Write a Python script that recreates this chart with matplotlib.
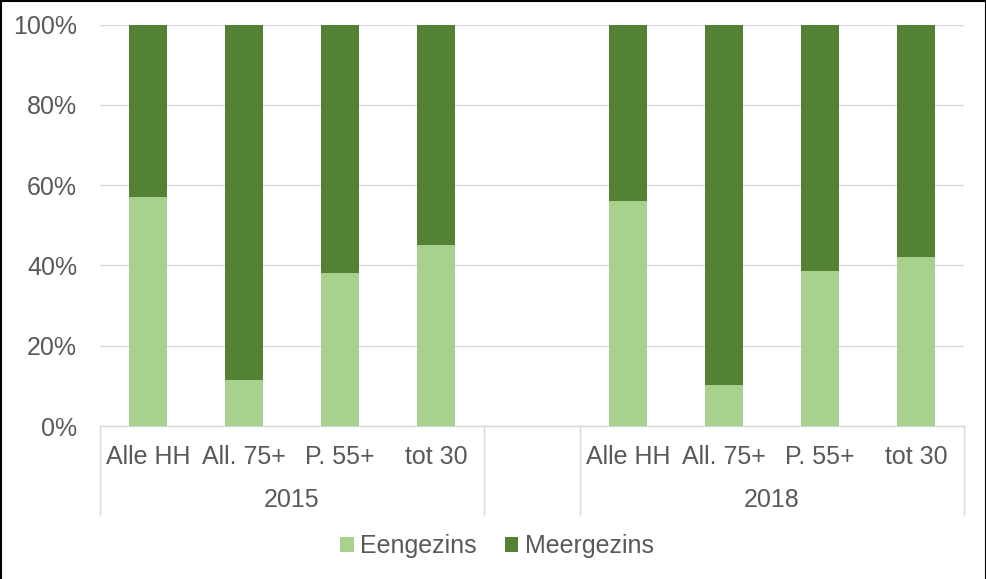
import numpy as np
import matplotlib
matplotlib.use("Agg")
import matplotlib.pyplot as plt
from matplotlib.patches import Patch
from matplotlib.lines import Line2D
from matplotlib.ticker import FuncFormatter

# data (percent of households)
categories = ["Alle HH", "All. 75+", "P. 55+", "tot 30"]
years = ["2015", "2018"]
eengezins_2015 = [57, 11.5, 38, 45]
meergezins_2015 = [43, 88.5, 62, 55]
eengezins_2018 = [56, 10.2, 38.6, 42.1]
meergezins_2018 = [44, 89.8, 61.4, 57.9]

light = "#A9D18E"
dark = "#548235"
grey_txt = "#595959"
grid_c = "#D9D9D9"

plt.rcParams['font.family'] = ['Liberation Sans', 'DejaVu Sans']
fs = 18

W, H = 986, 579
fig = plt.figure(figsize=(W / 100, H / 100), dpi=100)
ax = fig.add_axes([100 / W, 1 - 426 / H, 864 / W, 401.5 / H])

# slot layout: 4 bars, one empty slot, 4 bars
n = len(categories)
x15 = np.arange(n)
x18 = np.arange(n) + n + 1
bw = 0.4

ax.bar(x15, eengezins_2015, bw, color=light, zorder=3)
ax.bar(x15, meergezins_2015, bw, bottom=eengezins_2015, color=dark, zorder=3)
ax.bar(x18, eengezins_2018, bw, color=light, zorder=3)
ax.bar(x18, meergezins_2018, bw, bottom=eengezins_2018, color=dark, zorder=3)

ax.set_xlim(-0.5, 2 * n + 0.5)
ax.set_ylim(0, 100)
ax.set_yticks(np.arange(0, 101, 20))
ax.yaxis.set_major_formatter(FuncFormatter(lambda v, p: f"{v:.0f}%"))
ax.tick_params(axis='y', length=0, pad=16.5, labelsize=fs, labelcolor=grey_txt)
ax.set_xticks([])
ax.grid(axis='y', color=grid_c, linewidth=1, zorder=0)
for s in ["top", "right", "left"]:
    ax.spines[s].set_visible(False)
ax.spines["bottom"].set_color(grid_c)
ax.spines["bottom"].set_linewidth(1)

tr = ax.get_xaxis_transform()
# category labels
for xs in (x15, x18):
    for x, lab in zip(xs, categories):
        ax.text(x, -0.077, lab, transform=tr, ha='center', va='center',
                fontsize=fs, color=grey_txt)
# group labels
ax.text((x15[0] + x15[-1]) / 2, -0.184, years[0], transform=tr, ha='center',
        va='center', fontsize=fs, color=grey_txt)
ax.text((x18[0] + x18[-1]) / 2, -0.184, years[1], transform=tr, ha='center',
        va='center', fontsize=fs, color=grey_txt)
# group separators
for sx in [-0.5, n - 0.5, n + 0.5, 2 * n + 0.5]:
    ax.plot([sx, sx], [0, -0.222], transform=tr, color=grid_c, lw=1,
            clip_on=False)

handles = [Patch(facecolor=light, label="Eengezins"),
           Patch(facecolor=dark, label="Meergezins")]
leg = fig.legend(handles=handles, loc='center', ncol=2,
                 bbox_to_anchor=(497 / W, 1 - 546 / H), frameon=False,
                 fontsize=fs, handlelength=0.55, handleheight=0.55,
                 handletextpad=0.25, columnspacing=1.1)
for t in leg.get_texts():
    t.set_color(grey_txt)

# outer frame (top, left, right)
fig.add_artist(Line2D([0.5 / W, 0.5 / W], [0, 1], color='black', lw=1.5))
fig.add_artist(Line2D([1 - 0.5 / W, 1 - 0.5 / W], [0, 1], color='black', lw=1.5))
fig.add_artist(Line2D([0, 1], [1 - 0.5 / H, 1 - 0.5 / H], color='black', lw=1.5))

fig.savefig("out.png", dpi=100)
